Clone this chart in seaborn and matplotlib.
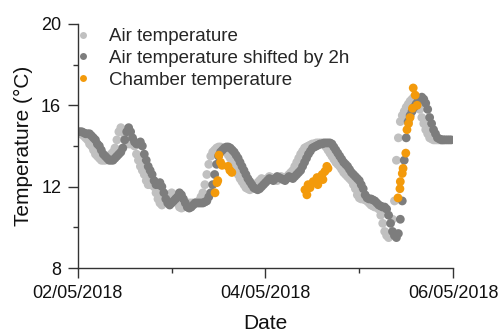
import numpy as np
import pandas as pd
import matplotlib
matplotlib.use("Agg")
import matplotlib.pyplot as plt
import matplotlib.dates as mdates
from matplotlib.lines import Line2D
import seaborn as sns

# ---- data ----
# Half-hourly air temperature starting 2018-05-01 22:00
air_start = "2018-05-01 22:00"
air_temp = [
    14.7, 14.7, 14.7, 14.65, 14.6, 14.6, 14.6, 14.5, 14.4, 14.3, 14.1, 14.0,
    13.8, 13.6, 13.5, 13.4, 13.3, 13.3, 13.3, 13.4, 13.5, 13.6, 13.7, 13.9,
    14.3, 14.7, 14.9, 14.7, 14.4, 14.2, 14.1, 14.1, 14.2, 14.0, 13.6, 13.3,
    13.0, 12.8, 12.6, 12.3, 12.1, 12.1, 12.2, 12.0, 11.7, 11.4, 11.2, 11.1,
    11.2, 11.3, 11.4, 11.5, 11.7, 11.6, 11.4, 11.2, 11.0, 10.95, 11.0, 11.1,
    11.2, 11.2, 11.2, 11.2, 11.2, 11.25, 11.3, 11.5, 11.7, 12.1, 12.6, 13.1,
    13.5, 13.7, 13.8, 13.9, 13.95, 13.95, 13.9, 13.8, 13.7, 13.55, 13.4, 13.2,
    13.0, 12.8, 12.6, 12.4, 12.25, 12.1, 11.95, 11.9, 11.85, 11.9, 12.0, 12.1,
    12.2, 12.3, 12.4, 12.35, 12.3, 12.4, 12.5, 12.45, 12.4, 12.35, 12.3, 12.4,
    12.5, 12.45, 12.4, 12.5, 12.6, 12.7, 12.8, 13.0, 13.2, 13.4, 13.6, 13.75,
    13.9, 13.95, 14.0, 14.05, 14.1, 14.1, 14.15, 14.15, 14.15, 14.15, 14.1, 13.95,
    13.8, 13.65, 13.5, 13.35, 13.2, 13.1, 13.0, 12.85, 12.7, 12.6, 12.5, 12.4,
    12.3, 12.1, 11.9, 11.6, 11.45, 11.4, 11.4, 11.35, 11.3, 11.2, 11.1, 11.05,
    11.0, 11.0, 10.9, 10.6, 10.2, 9.8, 9.6, 9.5, 9.7, 10.4, 11.3, 13.3,
    14.4, 15.2, 15.5, 15.7, 15.9, 16.05, 16.2, 16.3, 16.4, 16.3, 16.1, 15.8,
    15.4, 15.1, 14.8, 14.6, 14.4, 14.35, 14.3, 14.3, 14.3, 14.3, 14.3, 14.3,
]
shift_hours = 2

# Chamber temperature: hours after 2018-05-02 00:00
chamber_hours = [
    35.1, 35.6, 35.8, 36.1, 36.5, 36.9, 38.4, 38.9, 39.4,
    58.1, 58.6, 58.9, 59.4, 60.2, 61.2, 61.4, 62.5, 62.7, 63.2, 63.7, 64.0,
    81.9, 82.4, 82.5, 83.0, 83.2, 83.9, 84.2, 84.6, 85.0, 85.6, 85.8, 86.3, 86.8,
]
chamber_temp = [
    11.7, 12.2, 12.3, 13.55, 13.2, 13.05, 13.0, 12.8, 12.7,
    11.85, 11.6, 12.1, 11.95, 12.25, 12.45, 12.1, 12.6, 12.35, 12.75, 13.0, 12.9,
    11.45, 11.9, 12.25, 12.65, 12.9, 13.65, 14.8, 15.1, 15.4, 15.85, 16.85, 16.5, 16.0,
]

labels = ["Air temperature", "Air temperature shifted by 2h", "Chamber temperature"]
colors = ["#c0c0c0", "#7d7d7d", "#f39a0b"]

# ---- build frame ----
air_times = pd.date_range(air_start, periods=len(air_temp), freq="30min")
shift_times = air_times + pd.Timedelta(hours=shift_hours)
ch_times = pd.Timestamp("2018-05-02 00:00") + pd.to_timedelta(chamber_hours, unit="h")

df = pd.concat([
    pd.DataFrame({"time": air_times, "temp": air_temp, "series": labels[0]}),
    pd.DataFrame({"time": shift_times, "temp": air_temp, "series": labels[1]}),
    pd.DataFrame({"time": ch_times, "temp": chamber_temp, "series": labels[2]}),
], ignore_index=True)

sns.set_style("ticks")
plt.rcParams["font.family"] = ["Liberation Sans", "DejaVu Sans"]

fig = plt.figure(figsize=(4.99, 3.36), dpi=100)
ax = fig.add_axes([0.156, 0.202, 0.752, 0.727])

sns.scatterplot(data=df, x="time", y="temp", hue="series", hue_order=labels,
                palette=dict(zip(labels, colors)), s=40, linewidth=0,
                edgecolor="none", ax=ax, legend=False)

ax.set_xlim(pd.Timestamp("2018-05-02"), pd.Timestamp("2018-05-06"))
ax.set_ylim(8, 20)
ax.set_yticks([8, 12, 16, 20])
ax.set_yticks([10, 14, 18], minor=True)
ax.xaxis.set_major_locator(mdates.DayLocator(bymonthday=[2, 4, 6]))
ax.xaxis.set_minor_locator(mdates.DayLocator(bymonthday=[3, 5]))
ax.xaxis.set_major_formatter(mdates.DateFormatter("%d/%m/%Y"))

for s in ["top", "right"]:
    ax.spines[s].set_visible(False)
for s in ["left", "bottom"]:
    ax.spines[s].set_color("#333333")
    ax.spines[s].set_linewidth(1.0)

ax.tick_params(which="major", length=7, width=1.0, color="#333333",
               labelsize=13, labelcolor="#111111")
ax.tick_params(axis="y", which="major", pad=5)
ax.tick_params(axis="x", which="major", pad=5)
ax.tick_params(which="minor", length=3.5, width=1.0, color="#333333")

ax.set_xlabel("Date", fontsize=15, color="#111111", labelpad=9)
ax.set_ylabel("Temperature (°C)", fontsize=15, color="#111111", labelpad=6)

handles = [Line2D([0], [0], marker="o", linestyle="none", markersize=5,
                  markerfacecolor=c, markeredgewidth=0) for c in colors]
ax.legend(handles, labels, loc="upper left", bbox_to_anchor=(-0.045, 1.037),
          frameon=False, fontsize=13.5, handletextpad=0.85, labelspacing=0.25,
          handlelength=1.0, borderaxespad=0.3)

fig.savefig("out.png", dpi=100)
